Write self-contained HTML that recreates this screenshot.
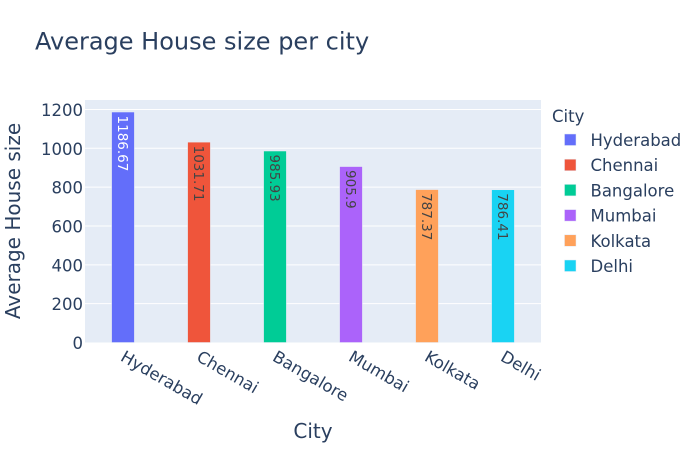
<!DOCTYPE html>
<html>
<head>
<meta charset="utf-8">
<title>Average House size per city</title>
<style>
html,body{margin:0;padding:0;background:#fff;}
svg{display:block;}
text{font-family:"DejaVu Sans",Verdana,sans-serif;fill:#2a3f5f;}
</style>
</head>
<body>
<svg id="chart" width="700" height="450" viewBox="0 0 700 450" xmlns="http://www.w3.org/2000/svg">
  <rect x="0" y="0" width="700" height="450" fill="#ffffff"/>
  <text x="35" y="49.5" font-size="24">Average House size per city</text>
  <rect x="85" y="100" width="456" height="242.5" fill="#e5ecf6"/>
  <g id="grid"></g>
  <g id="bars"></g>
  <g id="yticks"></g>
  <g id="xticks"></g>
  <text transform="translate(20,221) rotate(-90)" text-anchor="middle" font-size="20">Average House size</text>
  <text x="313" y="438" text-anchor="middle" font-size="20">City</text>
  <g id="legend">
    <text x="552" y="122" font-size="16.5">City</text>
  </g>
</svg>
<script>
const categories = ["Hyderabad", "Chennai", "Bangalore", "Mumbai", "Kolkata", "Delhi"];
const values = [1186.67, 1031.71, 985.93, 905.9, 787.37, 786.41];
const colors = ["#636efa", "#ef553b", "#00cc96", "#ab63fa", "#ffa15a", "#19d3f3"];
const labelColors = ["#ffffff", "#444444", "#444444", "#444444", "#444444", "#444444"];
const yTicks = [0, 200, 400, 600, 800, 1000, 1200];
const yMax = 1248.6;

const NS = "http://www.w3.org/2000/svg";
const plotLeft = 85, plotRight = 541, plotTop = 100, plotBottom = 342.5;
const barFraction = 0.3;

function xBand() { return (plotRight - plotLeft) / categories.length; }
function xScale(i) { return plotLeft + xBand() * (i + 0.5); }
function yScale(v) { return plotBottom - (v / yMax) * (plotBottom - plotTop); }
function make(tag, attrs, parent) {
  const el = document.createElementNS(NS, tag);
  for (const k in attrs) el.setAttribute(k, attrs[k]);
  parent.appendChild(el);
  return el;
}

const gridG = document.getElementById("grid");
const yG = document.getElementById("yticks");
yTicks.forEach(function (t) {
  if (t !== 0) {
    const line = make("line", { x1: plotLeft, x2: plotRight, y1: yScale(t), y2: yScale(t), stroke: "#ffffff", "stroke-width": 1 }, gridG);
    
    
  }
  const label = make("text", { x: 83, y: yScale(t) + 6.5, "text-anchor": "end", "font-size": 16.5 }, yG);
  
  
  label.textContent = String(t);
});

const barsG = document.getElementById("bars");
categories.forEach(function (c, i) {
  const w = xBand() * barFraction;
  const top = yScale(values[i]);
  const bar = make("rect", { x: xScale(i) - w / 2, y: top, width: w, height: plotBottom - top, fill: colors[i], stroke: "#e5ecf6", "stroke-width": 0.5 }, barsG);
  
  
  const label = make("text", { transform: "translate(" + (xScale(i) - 5) + "," + (top + 3.5) + ") rotate(90)", "font-size": 13.5 }, barsG);
  
  
  label.style.fill = labelColors[i];
  label.textContent = String(values[i]);
});

const xG = document.getElementById("xticks");
categories.forEach(function (c, i) {
  const label = make("text", { transform: "translate(" + (xScale(i) - 3.5) + ",360) rotate(30)", "font-size": 16.5 }, xG);
  
  
  label.textContent = c;
});

const legendG = document.getElementById("legend");
categories.forEach(function (c, i) {
  const cy = 140 + i * 25.2;
  const swatch = make("rect", { x: 564.5, y: cy - 6, width: 11.5, height: 11.5, fill: colors[i], stroke: "#e5ecf6", "stroke-width": 0.5 }, legendG);
  
  
  const label = make("text", { x: 590.5, y: cy + 6, "font-size": 16.5 }, legendG);
  
  
  label.textContent = c;
});
</script>
</body>
</html>
